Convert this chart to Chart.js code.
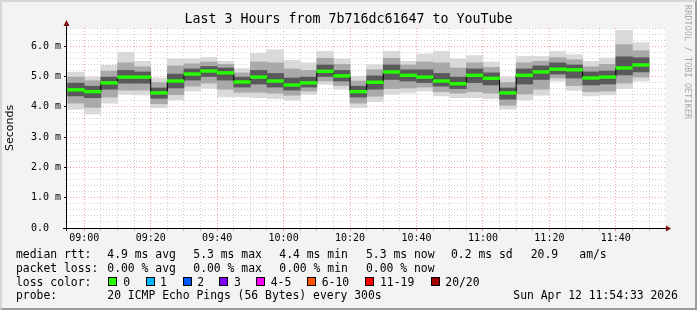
<!DOCTYPE html>
<html lang="en">
<head>
<meta charset="UTF-8">
<title>Last 3 Hours from 7b716dc61647 to YouTube</title>
<script src="https://cdn.jsdelivr.net/npm/chart.js"></script>
<style>
    body { margin: 0; background: #ffffff; }
    #box {
        position: relative; width: 697px; height: 310px; box-sizing: border-box;
        background: #f3f3f3;
        border-top: 2px solid #d6d6d6; border-left: 2px solid #d6d6d6;
        border-right: 2px solid #9c9c9c; border-bottom: 2px solid #9c9c9c;
        font-family: "DejaVu Sans Mono", monospace; color: #000;
        overflow: hidden;
    }
    #grafico { position: absolute; left: -2px; top: -2px; }
    #titulo {
        position: absolute; left: -2px; top: 9px; width: 697px; text-align: center;
        font-size: 13.3px; line-height: 16px; white-space: pre;
    }
    #marca {
        position: absolute; left: 681px; top: 3px; writing-mode: vertical-rl;
        font-size: 8.3px; color: #a8a8a8; letter-spacing: 0.2px; white-space: pre;
    }
    .t { position: absolute; font-size: 11.4px; line-height: 14px; white-space: pre; }
    .q { position: absolute; width: 7px; height: 7px; border: 1px solid #000; }
</style>
</head>
<body>

<div id="box">
    <canvas id="grafico" width="697" height="310"></canvas>
    <div id="titulo">Last 3 Hours from 7b716dc61647 to YouTube</div>
    <div id="marca">RRDTOOL / TOBI OETIKER</div>
    <div id="legenda"></div>
</div>

<script>

    // 5 minute steps starting 08:55, values in ms
    var primeiroPasso = 8 * 60 + 55;
    var passo = 5;

    var mediana = [4.56, 4.50, 4.79, 4.98, 4.98, 4.46, 4.85, 5.08, 5.18, 5.12, 4.82, 4.98, 4.85, 4.72, 4.79, 5.17, 5.02,
                   4.50, 4.81, 5.15, 5.04, 4.98, 4.85, 4.76, 5.04, 4.94, 4.46, 5.04, 5.15, 5.24, 5.22, 4.95, 4.98, 5.28, 5.38];
    var minimo = [3.92, 3.76, 4.12, 4.41, 4.39, 3.97, 4.23, 4.52, 4.61, 4.33, 4.33, 4.30, 4.27, 4.22, 4.41, 4.74, 4.58,
                  3.97, 4.17, 4.41, 4.46, 4.52, 4.36, 4.30, 4.30, 4.27, 3.92, 4.23, 4.38, 4.85, 4.54, 4.36, 4.39, 4.60, 4.85];
    var maximo = [5.14, 4.98, 5.37, 5.80, 5.50, 4.95, 5.58, 5.58, 5.63, 5.50, 5.26, 5.76, 5.88, 5.53, 5.45, 5.83, 5.58,
                  5.01, 5.39, 5.83, 5.50, 5.74, 5.83, 5.58, 5.69, 5.48, 4.98, 5.66, 5.66, 5.83, 5.72, 5.50, 5.61, 6.52, 6.12];
    var p10 = [4.12, 3.98, 4.32, 4.55, 4.55, 4.10, 4.40, 4.68, 4.78, 4.58, 4.48, 4.48, 4.45, 4.38, 4.52, 4.85, 4.70,
               4.12, 4.35, 4.60, 4.62, 4.65, 4.50, 4.45, 4.50, 4.45, 4.05, 4.42, 4.58, 4.95, 4.70, 4.50, 4.52, 4.78, 4.98];
    var p25 = [4.36, 4.30, 4.58, 4.78, 4.78, 4.28, 4.62, 4.88, 5.00, 4.88, 4.65, 4.75, 4.65, 4.55, 4.65, 5.00, 4.85,
               4.32, 4.58, 4.90, 4.85, 4.80, 4.68, 4.60, 4.80, 4.72, 4.25, 4.75, 4.90, 5.08, 4.95, 4.72, 4.75, 5.05, 5.15];
    var p75 = [4.78, 4.68, 4.98, 5.20, 5.15, 4.62, 5.08, 5.25, 5.33, 5.28, 4.98, 5.20, 5.10, 4.95, 4.98, 5.38, 5.20,
               4.68, 5.02, 5.38, 5.22, 5.22, 5.10, 4.98, 5.25, 5.12, 4.62, 5.25, 5.35, 5.45, 5.38, 5.15, 5.18, 5.65, 5.62];
    var p90 = [4.98, 4.86, 5.18, 5.45, 5.32, 4.80, 5.35, 5.42, 5.48, 5.40, 5.12, 5.48, 5.45, 5.25, 5.20, 5.60, 5.40,
               4.85, 5.22, 5.60, 5.38, 5.48, 5.45, 5.28, 5.45, 5.30, 4.80, 5.45, 5.50, 5.62, 5.55, 5.32, 5.40, 6.05, 5.85];

    var inicio = 8 * 60 + 54.8;   // 08:54:48
    var fim = inicio + 180;
    var yLabels = ['0.0  ', '1.0 m', '2.0 m', '3.0 m', '4.0 m', '5.0 m', '6.0 m'];

    var linhasLegenda = [
        [[16, 'median rtt:'], [107.3, '4.9 ms avg'], [193.3, '5.3 ms max'], [279.3, '4.4 ms min'], [366, '5.3 ms now'], [451, '0.2 ms sd'], [530.7, '20.9'], [579.3, 'am/s']],
        [[16, 'packet loss:'], [107.3, '0.00 % avg'], [193.3, '0.00 % max'], [279.3, '0.00 % min'], [366, '0.00 % now']],
        [[16, 'loss color:'], [123.3, '0'], [160, '1'], [197.3, '2'], [234, '3'], [270.7, '4-5'], [321.7, '6-10'], [380, '11-19'], [445.3, '20/20']],
        [[16, 'probe:'], [107.3, '20 ICMP Echo Pings (56 Bytes) every 300s'], [513.3, 'Sun Apr 12 11:54:33 2026']]
    ];
    var coresPerda = [[108.3, '#26ff00'], [145.7, '#00b8ff'], [182.7, '#0059ff'], [219.3, '#7e00ff'], [256, '#ff00ff'], [307, '#ff5500'], [365.3, '#ff0000'], [430.7, '#a10000']];

    // legend text
    var leg = document.getElementById('legenda');
    for (var l = 0; l < linhasLegenda.length; l++) {
        for (var k = 0; k < linhasLegenda[l].length; k++) {
            leg.innerHTML += `<div class="t" style="left:${linhasLegenda[l][k][0] - 2}px; top:${245 + l * 13.8}px">${linhasLegenda[l][k][1]}</div>`;
        }
    }
    for (var c = 0; c < coresPerda.length; c++) {
        leg.innerHTML += `<div class="q" style="left:${coresPerda[c][0] - 2}px; top:275px; background:${coresPerda[c][1]}"></div>`;
    }

    var centros = mediana.map((m, i) => primeiroPasso + passo * i + passo / 2);

    function faixa(baixo, alto) {
        return centros.map((x, i) => ({ x: x, y: [baixo[i], alto[i]] }));
    }

    var espessura = 0.045;
    var verde = centros.map((x, i) => ({ x: x, y: [mediana[i] - espessura, mediana[i] + espessura] }));
    var degraus = centros.map((x, i) => ({ x: x, y: mediana[i] }));

    var xTicks = [];
    for (var t = 540; t <= 710; t += 5) xTicks.push(t);
    var yTicks = [];
    for (var v = 0; v <= 33; v++) yTicks.push(Math.round(v * 2) / 10);

    function hora(min) {
        var h = Math.floor(min / 60), m = min % 60;
        return String(h).padStart(2, '0') + ':' + String(m).padStart(2, '0');
    }

    const fundo = {
        id: 'fundo',
        beforeDraw(chart) {
            const a = chart.chartArea, ctx = chart.ctx;
            ctx.save();
            ctx.fillStyle = '#ffffff';
            ctx.fillRect(a.left, a.top, a.right - a.left, a.bottom - a.top);
            ctx.restore();
        },
        afterDraw(chart) {
            const a = chart.chartArea, ctx = chart.ctx;
            ctx.save();
            ctx.strokeStyle = '#000000';
            ctx.lineWidth = 1;
            ctx.beginPath();
            ctx.moveTo(Math.round(a.left) - 0.5, a.bottom + 3);
            ctx.lineTo(Math.round(a.left) - 0.5, a.top - 4);
            ctx.moveTo(a.left - 4, Math.round(a.bottom) + 0.5);
            ctx.lineTo(a.right + 2, Math.round(a.bottom) + 0.5);
            ctx.stroke();
            ctx.fillStyle = '#7a1010';
            ctx.beginPath();
            ctx.moveTo(Math.round(a.left) - 0.5, a.top - 8);
            ctx.lineTo(Math.round(a.left) - 3.5, a.top - 2);
            ctx.lineTo(Math.round(a.left) + 2.5, a.top - 2);
            ctx.fill();
            ctx.beginPath();
            ctx.moveTo(a.right + 6, Math.round(a.bottom) + 0.5);
            ctx.lineTo(a.right + 1, Math.round(a.bottom) - 2.5);
            ctx.lineTo(a.right + 1, Math.round(a.bottom) + 3.5);
            ctx.fill();
            ctx.restore();
        }
    };

    const ctx = document.getElementById('grafico').getContext('2d');
    const grafico = new Chart(ctx, {
        type: 'bar',
        data: {
            datasets: [
                { label: 'max', data: faixa(minimo, maximo), backgroundColor: '#d9d9d9', grouped: false, order: 6 },
                { label: 'p90', data: faixa(p10, p90), backgroundColor: '#a9a9a9', grouped: false, order: 5 },
                { label: 'p75', data: faixa(p25, p75), backgroundColor: '#595959', grouped: false, order: 4 },
                { type: 'line', label: 'degraus', data: degraus, borderColor: '#000000', borderWidth: 1,
                  stepped: 'middle', pointRadius: 0, fill: false, order: 2 },
                { label: 'median rtt', data: verde, backgroundColor: '#26ff00', grouped: false, order: 1 }
            ]
        },
        options: {
            responsive: false,
            animation: false,
            events: [],
            datasets: {
                bar: { barPercentage: 1, categoryPercentage: 1, borderWidth: 0 }
            },
            layout: { padding: { top: 28, right: 32, left: 2, bottom: 0 } },
            plugins: {
                legend: { display: false },
                tooltip: { enabled: false },
                title: { display: false }
            },
            scales: {
                x: {
                    type: 'linear',
                    min: inicio,
                    max: fim,
                    offset: false,
                    afterBuildTicks: (scale) => { scale.ticks = xTicks.map(v => ({ value: v })); },
                    afterFit: (scale) => { scale.height = 82; },
                    grid: {
                        offset: false,
                        color: (c) => c.tick && c.tick.value % 20 === 0 ? '#f2a0a0' : '#cfcfcf',
                        tickColor: (c) => c.tick && c.tick.value % 20 === 0 ? '#f08080' : '#c0c0c0',
                        tickLength: 3
                    },
                    border: { display: false, dash: [1, 2] },
                    ticks: {
                        autoSkip: false, maxRotation: 0, padding: 1, color: '#000',
                        font: { family: 'DejaVu Sans Mono', size: 10 },
                        callback: (value) => value % 20 === 0 ? hora(value) : ''
                    }
                },
                y: {
                    min: 0,
                    max: 6.6,
                    afterBuildTicks: (scale) => { scale.ticks = yTicks.map(v => ({ value: v })); },
                    afterFit: (scale) => { scale.width = 65; },
                    grid: {
                        color: (c) => c.tick && Math.abs(c.tick.value - Math.round(c.tick.value)) < 1e-6 ? '#f2a0a0' : '#cfcfcf',
                        tickColor: (c) => c.tick && Math.abs(c.tick.value - Math.round(c.tick.value)) < 1e-6 ? '#000' : 'rgba(0,0,0,0)',
                        tickLength: 3
                    },
                    border: { display: false, dash: [1, 2] },
                    title: {
                        display: true, text: 'Seconds', color: '#000',
                        font: { family: 'DejaVu Sans', size: 11 }, padding: { top: 2, bottom: 2 }
                    },
                    ticks: {
                        autoSkip: false, padding: 3, color: '#000',
                        font: { family: 'DejaVu Sans Mono', size: 10 },
                        callback: (value) => Math.abs(value - Math.round(value)) < 1e-6 ? yLabels[Math.round(value)] : ''
                    }
                }
            }
        },
        plugins: [fundo]
    });

</script>
</body>
</html>
